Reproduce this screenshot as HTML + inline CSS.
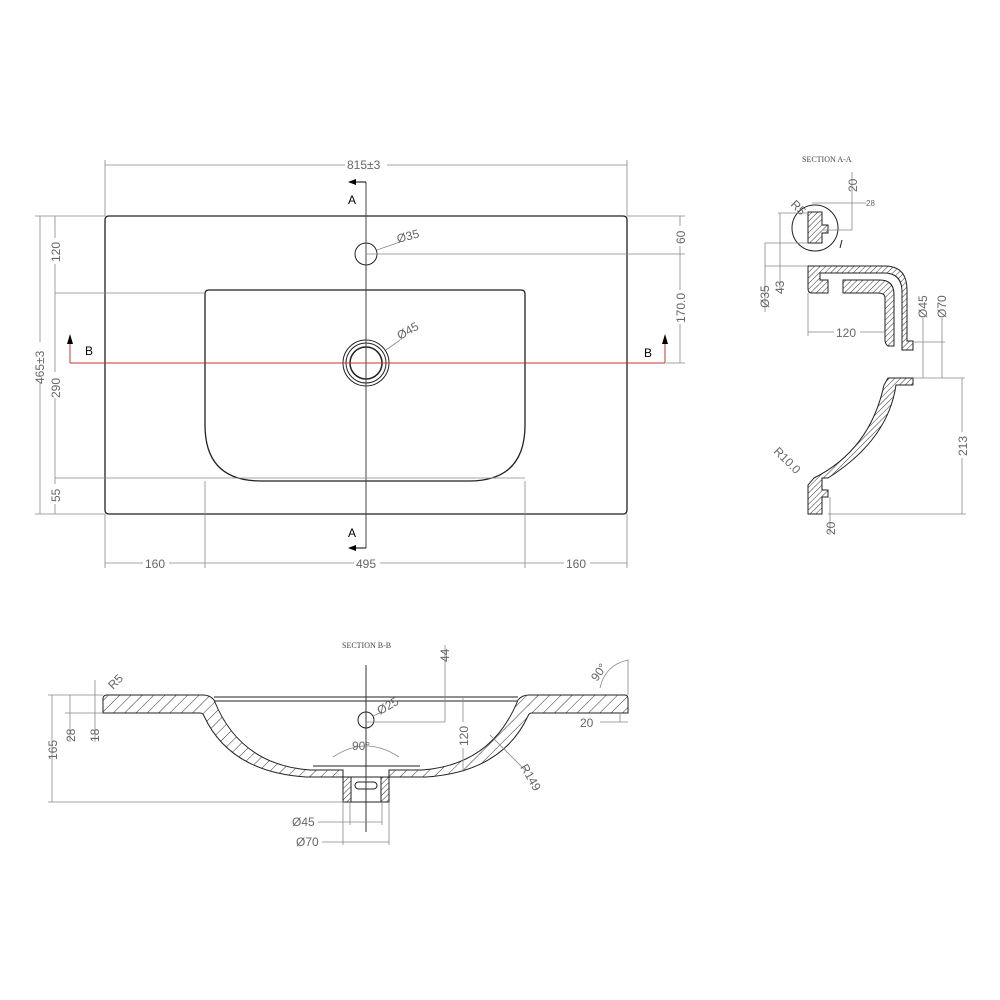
<!DOCTYPE html>
<html><head><meta charset="utf-8"><style>
html,body{margin:0;padding:0;background:#fff}
svg{display:block}
text{font-family:"Liberation Sans",sans-serif;fill:#666;font-size:12px}
.d{stroke:#888;stroke-width:0.8;fill:none}
.o{stroke:#222;stroke-width:1.3;fill:none}
.h{stroke:#222;stroke-width:1;fill:url(#hat)}
.hb{stroke:#222;stroke-width:1;fill:url(#hat2)}
</style></head><body>
<svg width="1000" height="1000" viewBox="0 0 1000 1000" xmlns="http://www.w3.org/2000/svg">
<defs>
<pattern id="hat" width="4" height="4" patternUnits="userSpaceOnUse" patternTransform="rotate(45)"><line x1="0" y1="0" x2="0" y2="4" stroke="#333" stroke-width="1"/></pattern>
<pattern id="hat2" width="8" height="8" patternUnits="userSpaceOnUse" patternTransform="rotate(45)"><line x1="0" y1="0" x2="0" y2="8" stroke="#333" stroke-width="1"/></pattern>
</defs>

<!-- PLAN VIEW -->
<path class="o" d="M109,216 H623 Q627,216 627,220 V510 Q627,514 623,514 H109 Q105,514 105,510 V220 Q105,216 109,216 Z"/>
<path class="o" d="M209,290 H521 Q525,290 525,294 V425 Q525,481 469,481 H261 Q205,481 205,425 V294 Q205,290 209,290 Z"/>
<circle cx="366" cy="254" r="11" stroke="#222" fill="none"/>
<circle cx="366" cy="363" r="23" stroke="#222" fill="none"/>
<circle cx="366" cy="363" r="20" stroke="#222" fill="none"/>
<circle cx="366" cy="363" r="16" stroke="#222" stroke-width="1.5" fill="none"/>
<line x1="366" y1="182" x2="366" y2="548" stroke="#444" stroke-width="1"/>
<line x1="70" y1="363" x2="665" y2="363" stroke="#c33" stroke-width="1"/>
<line x1="70" y1="363" x2="70" y2="338" stroke="#c33"/><path d="M70,334 l-3,10 h6z" fill="#000"/>
<line x1="665" y1="363" x2="665" y2="338" stroke="#c33"/><path d="M665,334 l-3,10 h6z" fill="#000"/>
<text x="85" y="355" style="fill:#000">B</text><text x="644" y="357" style="fill:#000">B</text>
<line x1="352" y1="182" x2="366" y2="182" stroke="#000"/><path d="M348,182 l8,-3 v6z" fill="#000"/>
<line x1="352" y1="548" x2="366" y2="548" stroke="#000"/><path d="M348,548 l8,-3 v6z" fill="#000"/>
<text x="348" y="204" style="fill:#000">A</text><text x="348" y="537" style="fill:#000">A</text>
<line class="d" x1="377" y1="250" x2="400" y2="242"/><text x="398" y="243" transform="rotate(-15 398 243)">Ø35</text>
<line class="d" x1="386" y1="350" x2="400" y2="340"/><text x="400" y="340" transform="rotate(-30 400 340)">Ø45</text>
<!-- dims -->
<line class="d" x1="105" y1="165" x2="627" y2="165"/><line class="d" x1="105" y1="160" x2="105" y2="216"/><line class="d" x1="627" y1="160" x2="627" y2="216"/>
<rect x="345" y="157" width="42" height="14" fill="#fff"/><text x="347" y="169">815±3</text>
<line class="d" x1="105" y1="514" x2="105" y2="568"/><line class="d" x1="205" y1="481" x2="205" y2="568"/><line class="d" x1="525" y1="481" x2="525" y2="568"/><line class="d" x1="627" y1="514" x2="627" y2="568"/>
<line class="d" x1="105" y1="563" x2="627" y2="563"/>
<rect x="143" y="556" width="26" height="14" fill="#fff"/><text x="145" y="568">160</text>
<rect x="354" y="556" width="26" height="14" fill="#fff"/><text x="356" y="568">495</text>
<rect x="564" y="556" width="26" height="14" fill="#fff"/><text x="566" y="568">160</text>
<line class="d" x1="35" y1="216" x2="105" y2="216"/><line class="d" x1="35" y1="514" x2="105" y2="514"/>
<line class="d" x1="55" y1="293" x2="205" y2="293"/><line class="d" x1="55" y1="478" x2="525" y2="478"/>
<line class="d" x1="40" y1="216" x2="40" y2="514"/><line class="d" x1="55" y1="216" x2="55" y2="514"/>
<rect x="32" y="342" width="14" height="40" fill="#fff"/><text transform="translate(44,384) rotate(-90)">465±3</text>
<rect x="48" y="238" width="14" height="26" fill="#fff"/><text transform="translate(60,262) rotate(-90)">120</text>
<rect x="48" y="372" width="14" height="26" fill="#fff"/><text transform="translate(60,398) rotate(-90)">290</text>
<rect x="48" y="484" width="14" height="20" fill="#fff"/><text transform="translate(60,502) rotate(-90)">55</text>
<line class="d" x1="627" y1="216" x2="685" y2="216"/><line class="d" x1="366" y1="254" x2="685" y2="254"/><line class="d" x1="666" y1="363" x2="685" y2="363"/>
<line class="d" x1="680" y1="216" x2="680" y2="363"/>
<rect x="673" y="226" width="14" height="20" fill="#fff"/><text transform="translate(685,244) rotate(-90)">60</text>
<rect x="673" y="290" width="14" height="34" fill="#fff"/><text transform="translate(685,323) rotate(-90)">170.0</text>

<!-- SECTION A-A -->
<text x="802" y="162" style="font-size:8px;fill:#444;font-family:'Liberation Serif',serif">SECTION A-A</text>
<path class="h" d="M808,212 H822 V225 H828 V233 H822 V243 H808 Z"/>
<circle cx="815" cy="228" r="23" stroke="#222" fill="none"/>
<line x1="842" y1="240" x2="840" y2="248" stroke="#222"/>
<path class="h" d="M808,266 H885 Q907,266 907,290 V341 H913 V350 H902 V292 Q902,273 884,273 H820 V280 H828 V293 H812 Q808,293 808,289 Z"/>
<path class="h" d="M843,280 H880 Q894,280 894,295 V346 H888 Q885,344 885,340 V298 Q885,293 878,293 H843 Z"/>
<path class="h" d="M888,378 H913 V385 H896 Q888,440 828,478 H822 V490 H828 V497 H822 V514 H808 V485 L814,478 Q870,450 884,385 Z"/>
<!-- A-A dims -->
<line class="d" x1="852" y1="172" x2="852" y2="230"/><line class="d" x1="822" y1="230" x2="852" y2="230"/><line class="d" x1="812" y1="203" x2="866" y2="203"/>
<text transform="translate(857,192) rotate(-90)">20</text>
<text x="866" y="206" style="font-size:8px">28</text>
<text transform="translate(790,205) rotate(45)">R5</text>
<line class="d" x1="765" y1="243" x2="808" y2="243"/><line class="d" x1="778" y1="213" x2="808" y2="213"/>
<line class="d" x1="765" y1="266" x2="808" y2="266"/>
<line class="d" x1="765" y1="243" x2="765" y2="312"/><line class="d" x1="780" y1="213" x2="780" y2="290"/>
<text transform="translate(769,308) rotate(-90)">Ø35</text>
<text transform="translate(784,294) rotate(-90)">43</text>
<line class="d" x1="808" y1="293" x2="808" y2="336"/>
<line class="d" x1="808" y1="332" x2="885" y2="332"/>
<rect x="834" y="325" width="26" height="14" fill="#fff"/><text x="836" y="337">120</text>
<line class="d" x1="913" y1="342" x2="945" y2="342"/><line class="d" x1="913" y1="378" x2="965" y2="378"/>
<line class="d" x1="923" y1="318" x2="923" y2="378"/><line class="d" x1="942" y1="318" x2="942" y2="378"/>
<text transform="translate(927,318) rotate(-90)">Ø45</text>
<text transform="translate(946,318) rotate(-90)">Ø70</text>
<line class="d" x1="962" y1="378" x2="962" y2="514"/><line class="d" x1="828" y1="514" x2="966" y2="514"/>
<rect x="955" y="432" width="14" height="26" fill="#fff"/><text transform="translate(967,456) rotate(-90)">213</text>
<line class="d" x1="830" y1="497" x2="830" y2="535"/>
<text transform="translate(835,535) rotate(-90)">20</text>
<text transform="translate(773,452) rotate(45)">R10.0</text>

<!-- SECTION B-B -->
<text x="342" y="648" style="font-size:8px;fill:#444;font-family:'Liberation Serif',serif">SECTION B-B</text>
<path class="hb" d="M107,695 H203 Q210,695 214,700 Q240,765 310,770 H343 V777 H306 Q230,772 204,716 Q203,713 200,713 H103 V699 Q103,695 107,695 Z"/>
<path class="hb" d="M625,695 H529 Q522,695 518,700 Q492,765 422,770 H389 V777 H426 Q502,772 528,716 Q529,713 532,713 H628 V699 Q628,695 625,695 Z"/>
<path class="h" d="M343,777 H351 V802 H343 Z"/><path class="h" d="M381,777 H389 V802 H381 Z"/>
<rect x="343" y="777" width="46" height="25" fill="none" stroke="#222"/>
<rect x="355" y="782" width="22" height="7" rx="3.5" fill="none" stroke="#222"/>
<line x1="214" y1="697" x2="518" y2="697" stroke="#222"/><line x1="214" y1="701" x2="518" y2="701" stroke="#222"/>
<line x1="313" y1="766" x2="420" y2="766" stroke="#222"/>
<line x1="366" y1="665" x2="366" y2="832" stroke="#333"/>
<circle cx="366" cy="720" r="8" fill="none" stroke="#222"/>
<line class="d" x1="373" y1="716" x2="382" y2="712"/><text transform="translate(380,715) rotate(-30)">Ø25</text>
<path class="d" d="M333,757 Q366,735 399,757"/><text x="352" y="750">90°</text>
<line class="d" x1="445" y1="645" x2="445" y2="722"/><line class="d" x1="366" y1="722" x2="445" y2="722"/>
<text transform="translate(449,662) rotate(-90)">44</text>
<line class="d" x1="463" y1="697" x2="463" y2="772"/>
<rect x="456" y="722" width="14" height="26" fill="#fff"/><text transform="translate(468,746) rotate(-90)">120</text>
<line class="d" x1="490" y1="735" x2="525" y2="770"/><text transform="translate(520,767) rotate(60)">R149</text>
<line class="d" x1="48" y1="695" x2="103" y2="695"/><line class="d" x1="48" y1="802" x2="343" y2="802"/>
<line class="d" x1="65" y1="713" x2="103" y2="713"/>
<line class="d" x1="52" y1="695" x2="52" y2="802"/><line class="d" x1="70" y1="695" x2="70" y2="713"/><line class="d" x1="70" y1="713" x2="70" y2="742"/>
<line class="d" x1="95" y1="680" x2="95" y2="742"/>
<text transform="translate(57,760) rotate(-90)">165</text>
<text transform="translate(75,742) rotate(-90)">28</text>
<text transform="translate(99,742) rotate(-90)">18</text>
<text transform="translate(113,690) rotate(-45)">R5</text>
<line class="d" x1="628" y1="722" x2="600" y2="722"/><line class="d" x1="620" y1="713" x2="620" y2="722"/>
<text x="580" y="727">20</text>
<path class="d" d="M600,688 Q605,665 628,660 V695"/><text transform="translate(597,682) rotate(-55)">90°</text>
<line class="d" x1="343" y1="802" x2="343" y2="845"/><line class="d" x1="389" y1="802" x2="389" y2="845"/>
<line class="d" x1="350" y1="802" x2="350" y2="825"/><line class="d" x1="382" y1="802" x2="382" y2="825"/>
<line class="d" x1="318" y1="822" x2="382" y2="822"/><line class="d" x1="322" y1="842" x2="389" y2="842"/>
<text x="292" y="826">Ø45</text><text x="296" y="846">Ø70</text>
</svg>
</body></html>
